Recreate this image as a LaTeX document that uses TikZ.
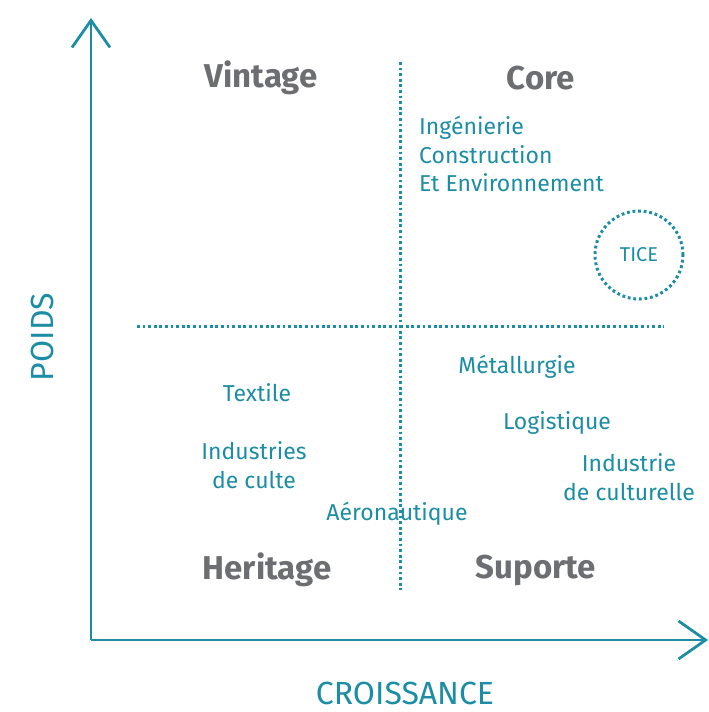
\documentclass[tikz,border=0pt]{standalone}
\usepackage{fontspec}
\setmainfont{Fira Sans}
\usetikzlibrary{arrows.meta}
\definecolor{teal1}{HTML}{1B8DA4}
\definecolor{gray1}{HTML}{6D6E71}
\tikzset{
  axis/.style={draw=teal1, line width=2.8pt, -{Straight Barb[length=27pt,width=38pt,line width=2.8pt]}},
  dotline/.style={draw=teal1, line width=3pt, dash pattern=on 2.8pt off 2.8pt},
  quad/.style={text=gray1, font=\fontsize{33}{36}\selectfont\bfseries, inner sep=0pt},
  item/.style={text=teal1, font=\fontsize{23}{28.5}\selectfont, inner sep=0pt, align=center},
  axlabel/.style={text=teal1, font=\fontsize{32}{36}\selectfont, inner sep=0pt}
}
\begin{document}
\begin{tikzpicture}[x=1pt,y=-1pt]
\useasboundingbox (0,0) rectangle (709,712);
\coordinate (o) at (91,640);
\coordinate (ytip) at (91,18);
\coordinate (xtip) at (708,640);
\draw[axis] (o) -- (ytip);
\draw[axis] (o) -- (xtip);
\coordinate (vt) at (400,62);
\coordinate (vb) at (400,590);
\coordinate (hl) at (137,326);
\coordinate (hr) at (664,326);
\draw[dotline] (vt) -- (vb);
\draw[dotline] (hl) -- (hr);
\node[quad] (vintage) at (261,78) {Vintage};
\node[quad] (core) at (541,78) {Core};
\node[quad] (heritage) at (267,570) {Heritage};
\node[quad] (suporte) at (536,570) {Suporte};
\node[item, align=left, anchor=north west] (ing) at (419,116) {Ingénierie\\Construction\\Et Environnement};
\node[draw=teal1, dotline, circle, minimum size=88pt, inner sep=0pt, text=teal1, font=\fontsize{20}{22}\selectfont] (tice) at (639,255) {TICE};
\node[item] (metal) at (517,367) {Métallurgie};
\node[item] (textile) at (257,393) {Textile};
\node[item] (indculte) at (254,465) {Industries\\de culte};
\node[item] (aero) at (397,514) {Aéronautique};
\node[item] (logi) at (557,423) {Logistique};
\node[item] (indcult) at (629,477) {Industrie\\de culturelle};
\node[axlabel, rotate=90] (poids) at (42,337) {POIDS};
\node[axlabel, anchor=base] (crois) at (405,704) {CROISSANCE};
\end{tikzpicture}
\end{document}
